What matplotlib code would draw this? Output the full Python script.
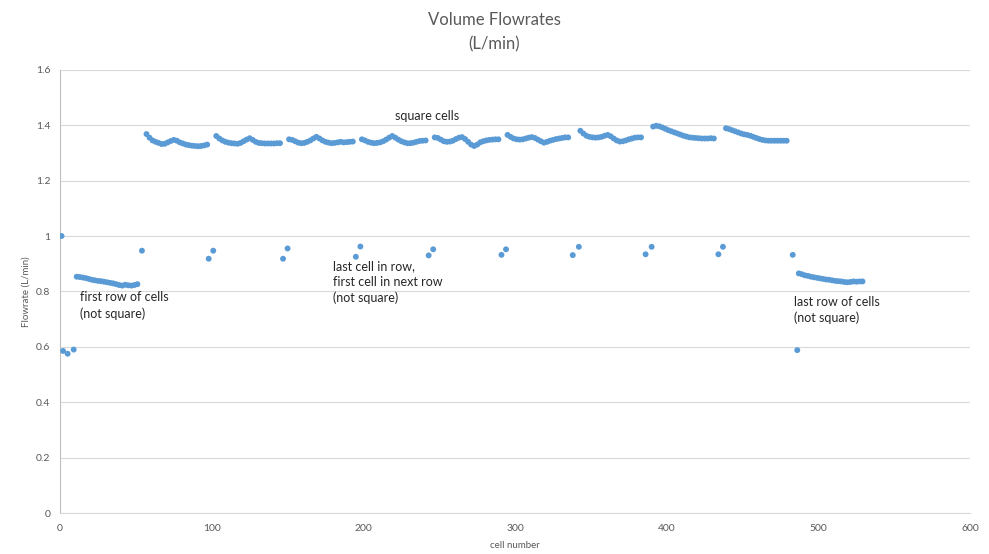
import numpy as np
import matplotlib
matplotlib.use("Agg")
import matplotlib.pyplot as plt

plt.rcParams['font.family'] = ['Lato', 'DejaVu Sans']

# ---- data ----
# isolated points: cell numbers and flowrates
single_cells = [1, 2, 5, 9, 54, 98, 101, 147, 150, 195, 198, 243, 246,
                291, 294, 338, 342, 386, 390, 434, 437, 483, 486]
single_vals = [1.000, 0.585, 0.575, 0.590, 0.947, 0.918, 0.947, 0.918, 0.955,
               0.925, 0.962, 0.930, 0.952, 0.932, 0.952, 0.931, 0.961,
               0.934, 0.961, 0.934, 0.961, 0.932, 0.588]

# row segments: first cell of each run (cells every 2 in the run)
seg_start = [11, 57, 103, 151, 199, 247, 295, 343, 391, 439, 487]
seg_vals = [
    [0.853, 0.852, 0.850, 0.848, 0.845, 0.842, 0.840, 0.838, 0.837, 0.835, 0.833,
     0.831, 0.829, 0.826, 0.823, 0.821, 0.824, 0.822, 0.821, 0.823, 0.826],
    [1.368, 1.355, 1.345, 1.340, 1.336, 1.332, 1.333, 1.338, 1.343, 1.347, 1.344,
     1.338, 1.334, 1.330, 1.328, 1.326, 1.325, 1.324, 1.325, 1.327, 1.330],
    [1.361, 1.352, 1.345, 1.340, 1.337, 1.335, 1.334, 1.333, 1.336, 1.342, 1.348,
     1.353, 1.347, 1.340, 1.336, 1.335, 1.334, 1.334, 1.334, 1.334, 1.335, 1.335],
    [1.349, 1.347, 1.342, 1.337, 1.335, 1.336, 1.340, 1.345, 1.352, 1.358, 1.352,
     1.345, 1.340, 1.337, 1.335, 1.336, 1.338, 1.340, 1.338, 1.339, 1.340, 1.341],
    [1.349, 1.345, 1.340, 1.337, 1.335, 1.336, 1.338, 1.342, 1.348, 1.355, 1.361,
     1.355, 1.348, 1.342, 1.338, 1.335, 1.335, 1.337, 1.340, 1.343, 1.344, 1.345],
    [1.356, 1.354, 1.348, 1.342, 1.340, 1.341, 1.344, 1.350, 1.355, 1.357, 1.350,
     1.340, 1.330, 1.325, 1.330, 1.338, 1.342, 1.345, 1.347, 1.348, 1.349, 1.349],
    [1.365, 1.358, 1.352, 1.349, 1.348, 1.349, 1.352, 1.355, 1.357, 1.354, 1.348,
     1.342, 1.337, 1.340, 1.344, 1.347, 1.350, 1.352, 1.354, 1.356, 1.356],
    [1.380, 1.370, 1.362, 1.358, 1.356, 1.355, 1.356, 1.358, 1.362, 1.365, 1.360,
     1.352, 1.345, 1.341, 1.342, 1.345, 1.349, 1.352, 1.355, 1.356, 1.356],
    [1.395, 1.398, 1.396, 1.392, 1.387, 1.382, 1.378, 1.374, 1.370, 1.366, 1.362,
     1.359, 1.356, 1.355, 1.354, 1.353, 1.352, 1.352, 1.352, 1.353, 1.352],
    [1.389, 1.386, 1.382, 1.378, 1.374, 1.370, 1.367, 1.365, 1.362, 1.358, 1.354,
     1.350, 1.347, 1.345, 1.344, 1.344, 1.344, 1.344, 1.344, 1.344, 1.344],
    [0.865, 0.862, 0.858, 0.856, 0.853, 0.851, 0.849, 0.847, 0.845, 0.843, 0.842,
     0.840, 0.838, 0.837, 0.836, 0.834, 0.833, 0.834, 0.836, 0.835, 0.836, 0.836],
]

x_ticks = [0, 100, 200, 300, 400, 500, 600]
y_ticks = [0, 0.2, 0.4, 0.6, 0.8, 1.0, 1.2, 1.4, 1.6]
y_tick_labels = ["0", "0.2", "0.4", "0.6", "0.8", "1", "1.2", "1.4", "1.6"]

# ---- assemble ----
cells = list(single_cells)
vals = list(single_vals)
for s, v in zip(seg_start, seg_vals):
    cells.extend(np.arange(s, s + 2 * len(v), 2))
    vals.extend(v)

fig = plt.figure(figsize=(9.89, 5.54), dpi=100)
ax = fig.add_axes([0.0607, 0.074, 0.9203, 0.800])

txt = '#595959'
ax.scatter(cells, vals, s=18, color='#5B9BD5', edgecolors='none', zorder=3)

ax.set_xlim(0, 600)
ax.set_ylim(0, 1.6)
ax.set_xticks(x_ticks)
ax.set_yticks(y_ticks)
ax.set_yticklabels(y_tick_labels)
ax.tick_params(length=0, labelsize=7.5, colors=txt)
ax.tick_params(axis='x', pad=8)
ax.tick_params(axis='y', pad=7)
ax.grid(axis='y', color='#d9d9d9', lw=0.8)
ax.set_axisbelow(True)
for sp in ['top', 'right']:
    ax.spines[sp].set_visible(False)
ax.spines['left'].set_color('#bfbfbf')
ax.spines['bottom'].set_color('#d9d9d9')

ax.set_xlabel('cell number', fontsize=7, color=txt, labelpad=6)
ax.set_ylabel('Flowrate (L/min)', fontsize=7, color=txt, labelpad=4)
fig.text(0.5, 0.978, 'Volume Flowrates\n(L/min)', ha='center', va='top',
         fontsize=12, color=txt, linespacing=1.65)

ann = dict(fontsize=9, color='#262626', va='top', ha='left', linespacing=1.35)
ax.text(221, 1.455, 'square cells', **ann)
ax.text(13, 0.800, 'first row of cells\n(not square)', **ann)
ax.text(180, 0.912, 'last cell in row,\nfirst cell in next row\n(not square)', **ann)
ax.text(484, 0.785, 'last row of cells\n(not square)', **ann)

fig.savefig('out.png', dpi=100)
